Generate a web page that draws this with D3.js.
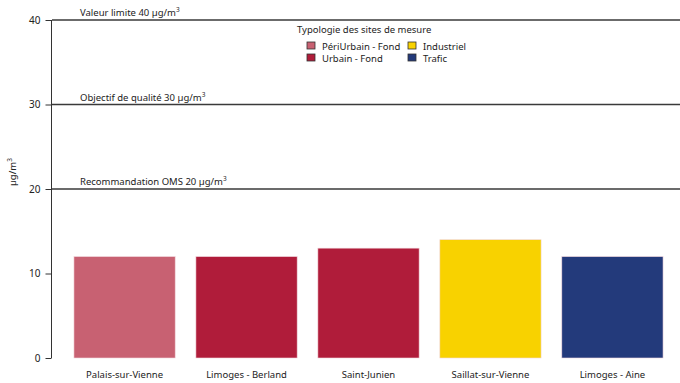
<!DOCTYPE html>
<html>
<head>
<meta charset="utf-8">
<script src="https://cdn.jsdelivr.net/npm/d3@7"></script>
<style>
  body { margin: 0; background: #fff; }
  svg { font-family: "Noto Sans", sans-serif; }
  text { fill: #222; }
</style>
</head>
<body>
<svg id="chart" width="680" height="383"></svg>
<script>
// Data
let sites = ["Palais-sur-Vienne", "Limoges - Berland", "Saint-Junien", "Saillat-sur-Vienne", "Limoges - Aine"];
let values = [12, 12, 13, 14, 12];
let siteTypes = ["PériUrbain - Fond", "Urbain - Fond", "Urbain - Fond", "Industriel", "Trafic"];

let typeNames = ["PériUrbain - Fond", "Urbain - Fond", "Industriel", "Trafic"];
let typeColors = ["#c86172", "#b01c3a", "#f8d200", "#233a7b"];

let refValues = [40, 30, 20];
let refLabels = ["Valeur limite 40 µg/m", "Objectif de qualité 30 µg/m", "Recommandation OMS 20 µg/m"];

let yTicks = [0, 10, 20, 30, 40];

// Scales
let svg = d3.select("#chart");

let y = d3.scaleLinear()
  .domain([0, 40])
  .range([358, 20]);

let x = d3.scaleBand()
  .domain(sites)
  .range([52, 685])
  .paddingInner(0.17)
  .paddingOuter(0.18);

let color = d3.scaleOrdinal()
  .domain(typeNames)
  .range(typeColors);

// Bars
svg.append("g")
  .selectAll("rect")
  .data(sites)
  .join("rect")
  .attr("x", d => x(d))
  .attr("y", (d, i) => y(values[i]))
  .attr("width", x.bandwidth())
  .attr("height", (d, i) => y(0) - y(values[i]))
  .attr("fill", (d, i) => color(siteTypes[i]))
  .attr("stroke", "#f2d6dc")
  .attr("stroke-width", 0.6);

// Reference lines with labels
let refs = svg.append("g");
refValues.forEach(function(v, i) {
  refs.append("line")
    .attr("x1", 52).attr("x2", 680)
    .attr("y1", y(v)).attr("y2", y(v))
    .attr("stroke", "#3a3a3a")
    .attr("stroke-width", 1.3);
  let t = refs.append("text")
    .attr("x", 80)
    .attr("y", y(v) - 4)
    .attr("font-size", 9.5)
    .attr("fill", "#333")
    .text(refLabels[i]);
  t.append("tspan")
    .attr("dy", -4)
    .attr("font-size", 6.5)
    .text("3");
});

// Y axis
let yAxis = d3.axisLeft(y)
  .tickValues(yTicks)
  .tickSize(6)
  .tickPadding(5);

let gy = svg.append("g")
  .attr("transform", "translate(51.5,0)")
  .call(yAxis);
gy.select(".domain").attr("stroke", "#333").attr("d", "M0," + y(40) + "V" + y(0));
gy.selectAll(".tick line").attr("stroke", "#333");
gy.selectAll(".tick text")
  .attr("font-size", 10)
  .attr("font-family", "Noto Sans, sans-serif")
  .attr("fill", "#222");

// Y axis title
let yt = svg.append("text")
  .attr("transform", "translate(16," + y(22) + ") rotate(-90)")
  .attr("text-anchor", "middle")
  .attr("font-size", 9.5)
  .text("µg/m");
yt.append("tspan")
  .attr("dy", -4)
  .attr("font-size", 6.5)
  .text("3");

// X labels
svg.append("g")
  .selectAll("text")
  .data(sites)
  .join("text")
  .attr("x", d => x(d) + x.bandwidth() / 2)
  .attr("y", 378)
  .attr("text-anchor", "middle")
  .attr("font-size", 9.5)
  .text(d => d);

// Legend
let legend = svg.append("g").attr("transform", "translate(297,0)");
legend.append("text")
  .attr("x", 0)
  .attr("y", 33)
  .attr("font-size", 9.5)
  .text("Typologie des sites de mesure");

let items = legend.selectAll("g.item")
  .data(typeNames)
  .join("g")
  .attr("class", "item")
  .attr("transform", (d, i) => "translate(" + (10 + Math.floor(i / 2) * 101) + "," + (42 + (i % 2) * 12) + ")");

items.append("rect")
  .attr("width", 8)
  .attr("height", 7)
  .attr("fill", d => color(d))
  .attr("stroke", "#333")
  .attr("stroke-width", 0.8);

items.append("text")
  .attr("x", 15)
  .attr("y", 7.5)
  .attr("font-size", 9.5)
  .text(d => d);
</script>
</body>
</html>
